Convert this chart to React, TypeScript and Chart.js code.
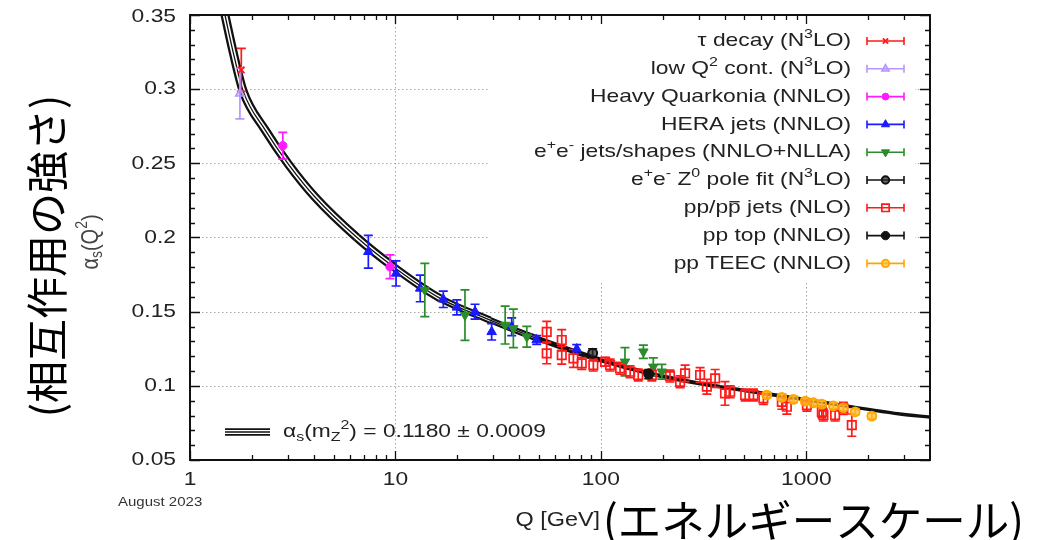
import React, { useEffect, useRef } from 'react';
import { Chart, registerables } from 'chart.js';
import { drawPoint } from 'chart.js/helpers';

Chart.register(...registerables);

// ---- theory curve ----
const curveQ = [1.48, 1.625, 1.817, 2.32, 3.01, 4.06, 6.48, 9.77, 16.5, 28.9, 48.7, 99.1, 171, 305, 380, 1005, 2862, 4000];
const curveA = [0.35, 0.3245, 0.2985, 0.2725, 0.2495, 0.2273, 0.2001, 0.1803, 0.159, 0.1443, 0.132, 0.1174, 0.1085, 0.1015, 0.0994, 0.0906, 0.081, 0.0789];

// ---- measurements ----
const tauQ = [1.777];
const tauA = [0.313];
const tauE = [0.0145];

const lowQ2Q = [1.75];
const lowQ2A = [0.297];
const lowQ2E = [0.017];

const quarkQ = [2.83, 9.41];
const quarkA = [0.2619, 0.1803];
const quarkE = [0.009, 0.008];

const heraQ = [7.38, 10.07, 13.2, 17.1, 19.9, 24.4, 29.4, 36.8, 48.7, 76.3];
const heraA = [0.1904, 0.1758, 0.1657, 0.1583, 0.1529, 0.15, 0.1364, 0.1398, 0.1309, 0.1248];
const heraE = [0.011, 0.0085, 0.009, 0.0055, 0.005, 0.005, 0.0055, 0.006, 0.003, 0.003];

const eeQ = [13.9, 21.8, 34.2, 37.5, 43.6, 131, 161, 180, 198];
const eeA = [0.1646, 0.1477, 0.141, 0.1387, 0.1331, 0.1162, 0.123, 0.1128, 0.1095];
const eeE = [0.018, 0.017, 0.0128, 0.013, 0.007, 0.0095, 0.0045, 0.006, 0.005];

const zpoleQ = [91.2];
const zpoleA = [0.122];
const zpoleE = [0.003];

const ppJetQ = [54.5, 54.5, 64.5, 64.5, 73.5, 80.7, 91.9, 104.8, 110.9, 124, 138.8, 152, 177, 217, 243, 257, 304, 328, 360, 402, 426, 504, 553, 618, 760, 804, 1006, 1190, 1211, 1381, 1515, 1665];
const ppJetA = [0.1364, 0.1219, 0.1309, 0.1207, 0.1185, 0.1151, 0.114, 0.1162, 0.114, 0.1118, 0.1095, 0.1073, 0.1073, 0.1066, 0.1027, 0.1084, 0.1073, 0.0994, 0.105, 0.0949, 0.096, 0.0938, 0.0938, 0.0915, 0.0892, 0.0859, 0.087, 0.0825, 0.0803, 0.0803, 0.0848, 0.0735];
const ppJetE = [0.007, 0.007, 0.007, 0.006, 0.006, 0.004, 0.004, 0.003, 0.004, 0.004, 0.004, 0.004, 0.004, 0.004, 0.004, 0.0055, 0.005, 0.005, 0.006, 0.008, 0.004, 0.004, 0.004, 0.004, 0.005, 0.005, 0.004, 0.004, 0.004, 0.004, 0.004, 0.0075];

const ppTopQ = [171];
const ppTopA = [0.1079];
const ppTopE = [0.003];

const teecQ = [642, 760, 865, 987, 1083, 1190, 1355, 1515, 1729, 2084];
const teecA = [0.0938, 0.0922, 0.0909, 0.0897, 0.0886, 0.0877, 0.0865, 0.0852, 0.0825, 0.0796];
const teecE = [0.002, 0.002, 0.002, 0.002, 0.002, 0.002, 0.002, 0.002, 0.002, 0.002];

// ---- axes ----
const xMajor = [1, 10, 100, 1000];
const xLabels = ['1', '10', '100', '1000'];
const yMajor = [0.05, 0.1, 0.15, 0.2, 0.25, 0.3, 0.35];
const yLabels = ['0.05', '0.1', '0.15', '0.2', '0.25', '0.3', '0.35'];

const legendLabels = [
  'τ decay (N^{3}LO)',
  'low Q^{2} cont. (N^{3}LO)',
  'Heavy Quarkonia (NNLO)',
  'HERA jets (NNLO)',
  'e^{+}e^{-} jets/shapes (NNLO+NLLA)',
  'e^{+}e^{-} Z^{0} pole fit (N^{3}LO)',
  'pp/p~{p} jets (NLO)',
  'pp top (NNLO)',
  'pp TEEC (NNLO)',
];
const fitLabel = 'α_{s}(m_{Z}^{2}) = 0.1180 ± 0.0009';

const FONT = '"Liberation Sans", Arial, Helvetica, sans-serif';
const JP = '"Noto Sans CJK JP", "Noto Sans CJK SC", sans-serif';

const RED = '#ff1a1a';
const LAV = '#b596ff';
const MAG = '#ff1aff';
const BLUE = '#1a1aff';
const GREEN = '#2a8c2a';
const BLACK = '#111111';
const ORANGE = '#ffa500';

type Seg = { t: string; m: 'n' | 'sup' | 'sub' | 'bar' };
function parseRich(s: string): Seg[] {
  const out: Seg[] = [];
  let i = 0;
  let buf = '';
  while (i < s.length) {
    const c = s[i];
    if ((c === '^' || c === '_' || c === '~') && s[i + 1] === '{') {
      if (buf) { out.push({ t: buf, m: 'n' }); buf = ''; }
      const end = s.indexOf('}', i + 2);
      out.push({ t: s.slice(i + 2, end), m: c === '^' ? 'sup' : c === '_' ? 'sub' : 'bar' });
      i = end + 1;
    } else { buf += c; i++; }
  }
  if (buf) out.push({ t: buf, m: 'n' });
  return out;
}

type RichOpts = { size: number; color: string; align: 'left' | 'right' | 'center'; sx?: number; sy?: number; family?: string; rot?: number };
function drawRich(ctx: CanvasRenderingContext2D, s: string, x: number, y: number, o: RichOpts) {
  const segs = parseRich(s);
  const fam = o.family ?? FONT;
  const small = o.size * 0.7;
  ctx.save();
  ctx.translate(x, y);
  if (o.rot) ctx.rotate(o.rot);
  ctx.scale(o.sx ?? 1, o.sy ?? 1);
  ctx.textBaseline = 'middle';
  ctx.textAlign = 'left';
  ctx.fillStyle = o.color;
  ctx.strokeStyle = o.color;
  const widths = segs.map((sg) => {
    ctx.font = `${sg.m === 'sup' || sg.m === 'sub' ? small : o.size}px ${fam}`;
    return ctx.measureText(sg.t).width;
  });
  const total = widths.reduce((a, b) => a + b, 0);
  let cx = o.align === 'left' ? 0 : o.align === 'right' ? -total : -total / 2;
  segs.forEach((sg, k) => {
    const sz = sg.m === 'sup' || sg.m === 'sub' ? small : o.size;
    ctx.font = `${sz}px ${fam}`;
    const dy = sg.m === 'sup' ? -0.36 * o.size : sg.m === 'sub' ? 0.26 * o.size : 0;
    ctx.fillText(sg.t, cx, dy);
    if (sg.m === 'bar') {
      ctx.lineWidth = o.size * 0.07;
      ctx.beginPath();
      ctx.moveTo(cx + 1, -0.32 * o.size);
      ctx.lineTo(cx + widths[k] - 1, -0.32 * o.size);
      ctx.stroke();
    }
    cx += widths[k];
  });
  ctx.restore();
}

const pts = (q: number[], a: number[]) => q.map((v, i) => ({ x: v, y: a[i] }));

function lerp(v: number, x0: number, x1: number, y0: number, y1: number) {
  if (v <= x0) return y0;
  if (v >= x1) return y1;
  return y0 + ((v - x0) / (x1 - x0)) * (y1 - y0);
}
const midLog = (c: any) => (Math.log10(curveQ[c.p0DataIndex]) + Math.log10(curveQ[c.p1DataIndex])) / 2;
const outerW = (c: any) => {
  const l = midLog(c);
  if (l < 1.8) return lerp(l, 0.9, 1.8, 9, 5.5);
  if (l < 2.2) return lerp(l, 1.8, 2.2, 5.5, 4);
  return lerp(l, 2.2, 3.6, 4, 3.3);
};
const innerW = (c: any) => {
  const l = midLog(c);
  if (l > 1.8) return 0.01;
  return lerp(l, 1.0, 1.7, 4.4, 1.4);
};

type MDef = { label: string; q: number[]; a: number[]; e: number[]; color: string; style: string; r: number; rot?: number; fill: string; bw: number };
const measurements: MDef[] = [
  { label: legendLabels[0], q: tauQ, a: tauA, e: tauE, color: RED, style: 'crossRot', r: 4.5, fill: RED, bw: 1.8 },
  { label: legendLabels[1], q: lowQ2Q, a: lowQ2A, e: lowQ2E, color: LAV, style: 'triangle', r: 5, fill: 'rgba(181,150,255,0.5)', bw: 1.5 },
  { label: legendLabels[2], q: quarkQ, a: quarkA, e: quarkE, color: MAG, style: 'circle', r: 4.2, fill: MAG, bw: 1 },
  { label: legendLabels[3], q: heraQ, a: heraA, e: heraE, color: BLUE, style: 'triangle', r: 5.5, fill: BLUE, bw: 1 },
  { label: legendLabels[4], q: eeQ, a: eeA, e: eeE, color: GREEN, style: 'triangle', r: 5.5, rot: 180, fill: GREEN, bw: 1 },
  { label: legendLabels[5], q: zpoleQ, a: zpoleA, e: zpoleE, color: BLACK, style: 'circle', r: 4.5, fill: 'rgba(40,40,40,0.7)', bw: 2 },
  { label: legendLabels[6], q: ppJetQ, a: ppJetA, e: ppJetE, color: RED, style: 'rect', r: 6, fill: 'rgba(255,255,255,0)', bw: 1.7 },
  { label: legendLabels[7], q: ppTopQ, a: ppTopA, e: ppTopE, color: BLACK, style: 'circle', r: 5, fill: BLACK, bw: 1 },
  { label: legendLabels[8], q: teecQ, a: teecA, e: teecE, color: ORANGE, style: 'circle', r: 4.5, fill: 'rgba(255,185,40,0.7)', bw: 1.8 },
];

function drawBandSymbol(ctx: CanvasRenderingContext2D, x0: number, x1: number, y: number) {
  ctx.save();
  ctx.lineCap = 'butt';
  ctx.strokeStyle = BLACK; ctx.lineWidth = 7.5;
  ctx.beginPath(); ctx.moveTo(x0, y); ctx.lineTo(x1, y); ctx.stroke();
  ctx.strokeStyle = '#ffffff'; ctx.lineWidth = 4;
  ctx.beginPath(); ctx.moveTo(x0, y); ctx.lineTo(x1, y); ctx.stroke();
  ctx.strokeStyle = BLACK; ctx.lineWidth = 1.4;
  ctx.beginPath(); ctx.moveTo(x0, y); ctx.lineTo(x1, y); ctx.stroke();
  ctx.restore();
}

const decor = {
  id: 'decor',
  beforeDatasetsDraw(chart: any) {
    const { ctx, chartArea: ca, scales } = chart;
    const xs = scales.x, ys = scales.y;
    ctx.save();
    ctx.strokeStyle = '#a8a8a8';
    ctx.lineWidth = 1;
    ctx.setLineDash([1.5, 2.5]);
    xMajor.slice(1).forEach((v) => {
      const px = Math.round(xs.getPixelForValue(v)) + 0.5;
      ctx.beginPath(); ctx.moveTo(px, ca.top); ctx.lineTo(px, ca.bottom); ctx.stroke();
    });
    yMajor.slice(1, -1).forEach((v) => {
      const py = Math.round(ys.getPixelForValue(v)) + 0.5;
      ctx.beginPath(); ctx.moveTo(ca.left, py); ctx.lineTo(ca.right, py); ctx.stroke();
    });
    ctx.setLineDash([]);
    // opaque key box
    ctx.fillStyle = '#ffffff';
    ctx.fillRect(490, ca.top + 1, 425, 265);
    ctx.restore();
  },
  afterDatasetDraw(chart: any, args: any) {
    if (args.index !== 2) return;
    const { ctx, scales } = chart;
    const xs = scales.x, ys = scales.y;
    ctx.save();
    ctx.lineWidth = 1.7;
    measurements.forEach((m) => {
      ctx.strokeStyle = m.color;
      m.q.forEach((q, i) => {
        const px = xs.getPixelForValue(q);
        const y0 = ys.getPixelForValue(m.a[i] + m.e[i]);
        const y1 = ys.getPixelForValue(m.a[i] - m.e[i]);
        ctx.beginPath();
        ctx.moveTo(px, y0); ctx.lineTo(px, y1);
        ctx.moveTo(px - 4.5, y0); ctx.lineTo(px + 4.5, y0);
        ctx.moveTo(px - 4.5, y1); ctx.lineTo(px + 4.5, y1);
        ctx.stroke();
      });
    });
    ctx.restore();
  },
  afterDraw(chart: any) {
    const { ctx, chartArea: ca, scales } = chart;
    const xs = scales.x, ys = scales.y;
    ctx.save();
    // ticks
    ctx.strokeStyle = BLACK;
    ctx.lineWidth = 1.3;
    const tickX = (v: number, len: number) => {
      const px = Math.round(xs.getPixelForValue(v)) + 0.5;
      ctx.beginPath();
      ctx.moveTo(px, ca.bottom); ctx.lineTo(px, ca.bottom - len);
      ctx.moveTo(px, ca.top); ctx.lineTo(px, ca.top + len);
      ctx.stroke();
    };
    const tickY = (v: number, len: number) => {
      const py = Math.round(ys.getPixelForValue(v)) + 0.5;
      ctx.beginPath();
      ctx.moveTo(ca.left, py); ctx.lineTo(ca.left + len, py);
      ctx.moveTo(ca.right, py); ctx.lineTo(ca.right - len, py);
      ctx.stroke();
    };
    for (let d = 1; d <= 1000; d *= 10) {
      tickX(d, 9);
      for (let k = 2; k <= 9; k++) if (d * k < 4000) tickX(d * k, 5);
    }
    for (let k = 5; k <= 35; k++) {
      const v = k / 100;
      tickY(v, k % 5 === 0 ? 10 : 5);
    }
    // frame
    ctx.lineWidth = 2;
    ctx.strokeRect(ca.left, ca.top, ca.right - ca.left, ca.bottom - ca.top);

    // tick labels
    yMajor.forEach((v, i) => drawRich(ctx, yLabels[i], 176, ys.getPixelForValue(v) + (i === yMajor.length - 1 ? 2 : 0), { size: 19, color: '#222', align: 'right', sx: 1.2 }));
    xMajor.forEach((v, i) => drawRich(ctx, xLabels[i], xs.getPixelForValue(v), 480, { size: 19, color: '#222', align: 'center', sx: 1.2 }));

    // key
    const y0 = 41, dy = 27.8;
    measurements.forEach((m, i) => {
      const y = y0 + i * dy;
      drawRich(ctx, m.label, 851, y, { size: 19, color: '#222', align: 'right', sx: 1.2 });
      ctx.strokeStyle = m.color;
      ctx.lineWidth = 1.6;
      ctx.beginPath();
      ctx.moveTo(867, y); ctx.lineTo(904, y);
      ctx.moveTo(867, y - 4); ctx.lineTo(867, y + 4);
      ctx.moveTo(904, y - 4); ctx.lineTo(904, y + 4);
      ctx.stroke();
      ctx.fillStyle = m.fill;
      ctx.lineWidth = m.bw;
      drawPoint(ctx, { pointStyle: m.style as any, radius: m.r - 0.8, rotation: m.rot ?? 0, borderWidth: m.bw } as any, 885.5, y);
    });

    // fit annotation
    drawBandSymbol(ctx, 225, 270, 432);
    drawRich(ctx, fitLabel, 283, 432, { size: 19, color: '#222', align: 'left', sx: 1.2 });

    // axis titles
    drawRich(ctx, 'August 2023', 118, 503, { size: 12.5, color: '#333', align: 'left', sx: 1.2 });
    drawRich(ctx, 'Q [GeV]', 600, 521, { size: 19.5, color: '#222', align: 'right', sx: 1.2 });
    drawRich(ctx, '(エネルギースケール)', 603, 520, { size: 43.5, color: '#000', align: 'left', family: JP });
    drawRich(ctx, 'α_{s}(Q^{2})', 91, 242, { size: 20, color: '#444', align: 'center', rot: -Math.PI / 2, sy: 1.2 });
    drawRich(ctx, '(相互作用の強さ)', 47, 256, { size: 42, color: '#000', align: 'center', rot: -Math.PI / 2, family: JP });
    ctx.restore();
  },
};

export default function App() {
  const ref = useRef<HTMLCanvasElement>(null);
  useEffect(() => {
    if (!ref.current) return;
    const curve = pts(curveQ, curveA);
    const datasets: any[] = [
      { label: 'band', data: curve, showLine: true, pointRadius: 0, borderColor: BLACK, borderWidth: 8, cubicInterpolationMode: 'monotone', clip: 0, order: 30, segment: { borderWidth: outerW } },
      { label: 'bandInner', data: curve, showLine: true, pointRadius: 0, borderColor: '#ffffff', borderWidth: 4, cubicInterpolationMode: 'monotone', clip: 0, order: 29, segment: { borderWidth: innerW } },
      { label: 'central', data: curve, showLine: true, pointRadius: 0, borderColor: BLACK, borderWidth: 1.3, cubicInterpolationMode: 'monotone', clip: 0, order: 28 },
      ...measurements.map((m, i) => ({
        label: m.label,
        data: pts(m.q, m.a),
        showLine: false,
        pointStyle: m.style,
        pointRadius: m.r,
        pointRotation: m.rot ?? 0,
        pointBackgroundColor: m.fill,
        pointBorderColor: m.color,
        pointBorderWidth: m.bw,
        order: 10 - i,
      })),
    ];
    const chart = new Chart(ref.current, {
      type: 'scatter',
      data: { datasets },
      options: {
        responsive: false,
        animation: false,
        devicePixelRatio: 1,
        layout: { padding: { left: 190, top: 15, right: 113, bottom: 80 } },
        scales: {
          x: { type: 'logarithmic', min: 1, max: 4000, display: false },
          y: { type: 'linear', min: 0.05, max: 0.35, display: false },
        },
        plugins: { legend: { display: false }, tooltip: { enabled: false } },
        events: [],
      },
      plugins: [decor],
    } as any);
    return () => chart.destroy();
  }, []);
  return (
    <div style={{ position: 'absolute', left: 0, top: 0, width: 1043, height: 540, background: '#fff' }}>
      <canvas ref={ref} width={1043} height={540} style={{ display: 'block', width: 1043, height: 540 }} />
    </div>
  );
}
